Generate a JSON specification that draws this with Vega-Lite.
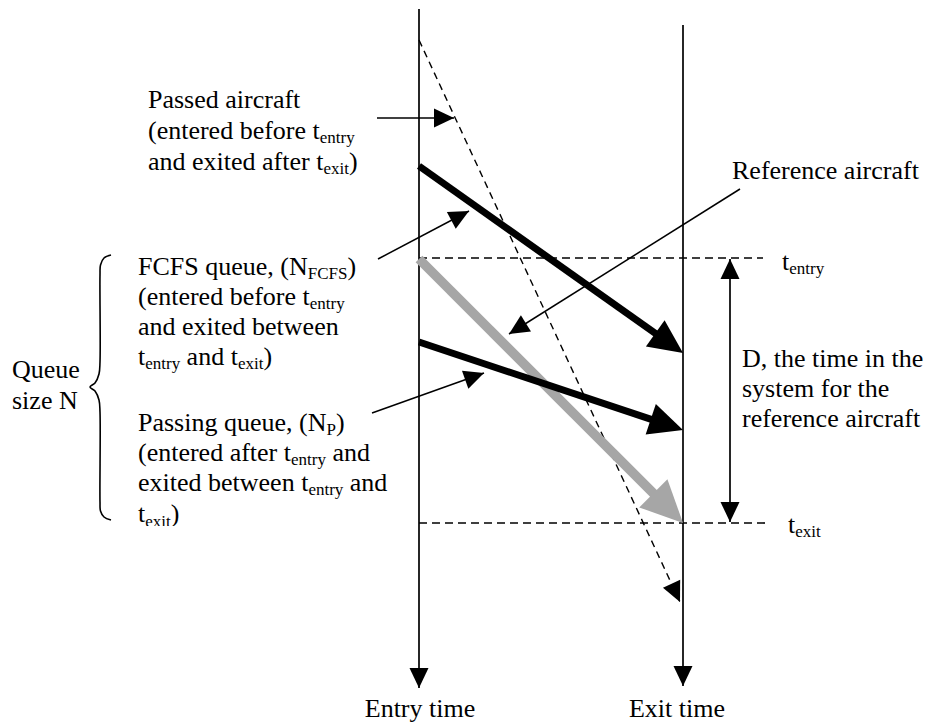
{
  "$schema": "https://vega.github.io/schema/vega-lite/v6.json",
  "width": 928,
  "height": 723,
  "autosize": "none",
  "padding": 0,
  "background": "white",
  "config": {"view": {"stroke": null}},
  "datasets": {
    "segments": [
      {"id": "entry_axis", "kind": "axis", "x": 419, "y": 9, "x2": 419, "y2": 688, "head": "end"},
      {"id": "exit_axis", "kind": "axis", "x": 683, "y": 25, "x2": 683, "y2": 686, "head": "end"},
      {"id": "passed_aircraft", "kind": "dash", "x": 419, "y": 40, "x2": 680, "y2": 602, "head": "end"},
      {"id": "t_entry_line", "kind": "dashflat", "x": 419, "y": 258, "x2": 763, "y2": 258, "head": "none"},
      {"id": "t_exit_line", "kind": "dashflat", "x": 419, "y": 523, "x2": 765, "y2": 523, "head": "none"},
      {"id": "D", "kind": "axis", "x": 730, "y": 259, "x2": 730, "y2": 522, "head": "both"},
      {"id": "fcfs_aircraft", "kind": "thick", "x": 419, "y": 166, "x2": 683, "y2": 353, "head": "end"},
      {"id": "passing_aircraft", "kind": "thick", "x": 419, "y": 342, "x2": 683, "y2": 430, "head": "end"},
      {"id": "reference_aircraft", "kind": "gray", "x": 419, "y": 259, "x2": 683, "y2": 523, "head": "end"},
      {"id": "ptr_passed", "kind": "thin", "x": 377, "y": 118, "x2": 454, "y2": 118, "head": "end"},
      {"id": "ptr_fcfs", "kind": "thin", "x": 378, "y": 259, "x2": 469, "y2": 211, "head": "end"},
      {"id": "ptr_passing", "kind": "thin", "x": 372, "y": 413, "x2": 484, "y2": 373, "head": "end"},
      {"id": "ptr_reference", "kind": "thin", "x": 740, "y": 189, "x2": 509, "y2": 334, "head": "end"}
    ],
    "brace": [
      {"i": 0, "x": 111, "y": 255},
      {"i": 1, "x": 104, "y": 258},
      {"i": 2, "x": 100.5, "y": 265},
      {"i": 3, "x": 100, "y": 275},
      {"i": 4, "x": 100, "y": 362},
      {"i": 5, "x": 99, "y": 374},
      {"i": 6, "x": 95, "y": 383},
      {"i": 7, "x": 90, "y": 387},
      {"i": 8, "x": 95, "y": 391},
      {"i": 9, "x": 99, "y": 400},
      {"i": 10, "x": 100, "y": 412},
      {"i": 11, "x": 100, "y": 502},
      {"i": 12, "x": 100.5, "y": 511},
      {"i": 13, "x": 104, "y": 517},
      {"i": 14, "x": 111, "y": 520}
    ],
    "texts": [
      {"role": "main", "x": 148, "y": 108, "t": "Passed aircraft"},
      {"role": "main", "x": 148, "y": 139, "t": "(entered before t"},
      {"role": "sub", "x": 319.8, "y": 143, "t": "entry"},
      {"role": "main", "x": 148, "y": 170, "t": "and exited after t"},
      {"role": "sub", "x": 323.4, "y": 174, "t": "exit"},
      {"role": "main", "x": 348.9, "y": 170, "t": ")"},

      {"role": "main", "x": 138, "y": 275, "t": "FCFS queue, (N"},
      {"role": "sub", "x": 307.7, "y": 279, "t": "FCFS"},
      {"role": "main", "x": 347.4, "y": 275, "t": ")"},
      {"role": "main", "x": 138, "y": 305, "t": "(entered before t"},
      {"role": "sub", "x": 309.8, "y": 309, "t": "entry"},
      {"role": "main", "x": 138, "y": 335, "t": "and exited between"},
      {"role": "main", "x": 138, "y": 365, "t": "t"},
      {"role": "sub", "x": 145.2, "y": 369, "t": "entry"},
      {"role": "main", "x": 186.6, "y": 365, "t": "and t"},
      {"role": "sub", "x": 237.9, "y": 369, "t": "exit"},
      {"role": "main", "x": 263.4, "y": 365, "t": ")"},

      {"role": "main", "x": 138, "y": 431, "t": "Passing queue, (N"},
      {"role": "sub", "x": 326.5, "y": 435, "t": "P"},
      {"role": "main", "x": 336, "y": 431, "t": ")"},
      {"role": "main", "x": 138, "y": 461, "t": "(entered after t"},
      {"role": "sub", "x": 291, "y": 465, "t": "entry"},
      {"role": "main", "x": 332.4, "y": 461, "t": "and"},
      {"role": "main", "x": 138, "y": 491, "t": "exited between t"},
      {"role": "sub", "x": 308.4, "y": 495, "t": "entry"},
      {"role": "main", "x": 349.8, "y": 491, "t": "and"},
      {"role": "main", "x": 138, "y": 522, "t": "t"},
      {"role": "sub", "x": 145.2, "y": 527, "t": "exit"},
      {"role": "main", "x": 170.7, "y": 522, "t": ")"},

      {"role": "main", "x": 12, "y": 378, "t": "Queue"},
      {"role": "main", "x": 12, "y": 409, "t": "size N"},

      {"role": "main", "x": 732, "y": 179, "t": "Reference aircraft"},
      {"role": "main", "x": 742, "y": 367, "t": "D, the time in the"},
      {"role": "main", "x": 742, "y": 397, "t": "system for the"},
      {"role": "main", "x": 742, "y": 427, "t": "reference aircraft"},

      {"role": "main", "x": 782, "y": 270, "t": "t"},
      {"role": "sub", "x": 789.2, "y": 274, "t": "entry"},
      {"role": "main", "x": 788, "y": 533, "t": "t"},
      {"role": "sub", "x": 795.2, "y": 537, "t": "exit"},

      {"role": "caption", "x": 420, "y": 717, "t": "Entry time"},
      {"role": "caption", "x": 677, "y": 717, "t": "Exit time"}
    ],
    "mask": [{"x": 125, "x2": 300, "y": 526, "y2": 545}]
  },
  "data": {"name": "segments"},
  "encoding": {
    "x": {"field": "x", "type": "quantitative", "scale": {"domain": [0, 928], "nice": false, "zero": false}, "axis": null},
    "y": {"field": "y", "type": "quantitative", "scale": {"domain": [0, 723], "nice": false, "zero": false, "reverse": true}, "axis": null}
  },
  "layer": [
    {
      "transform": [{"filter": "datum.kind === 'axis'"}],
      "mark": {"type": "rule", "color": "black", "strokeWidth": 1.7},
      "encoding": {"x2": {"field": "x2"}, "y2": {"field": "y2"}}
    },
    {
      "transform": [{"filter": "datum.kind === 'thin'"}],
      "mark": {"type": "rule", "color": "black", "strokeWidth": 1.5},
      "encoding": {"x2": {"field": "x2"}, "y2": {"field": "y2"}}
    },
    {
      "transform": [{"filter": "datum.kind === 'dash'"}],
      "mark": {"type": "rule", "color": "black", "strokeWidth": 1.4, "strokeDash": [7, 5]},
      "encoding": {"x2": {"field": "x2"}, "y2": {"field": "y2"}}
    },
    {
      "transform": [{"filter": "datum.kind === 'dashflat'"}],
      "mark": {"type": "rule", "color": "black", "strokeWidth": 1.6, "strokeDash": [8, 5]},
      "encoding": {"x2": {"field": "x2"}, "y2": {"field": "y2"}}
    },
    {
      "transform": [
        {"filter": "datum.kind === 'gray'"},
        {"calculate": "sqrt(pow(datum.x2 - datum.x, 2) + pow(datum.y2 - datum.y, 2))", "as": "len"},
        {"calculate": "datum.x2 - (datum.x2 - datum.x) / datum.len * 28", "as": "sx2"},
        {"calculate": "datum.y2 - (datum.y2 - datum.y) / datum.len * 28", "as": "sy2"}
      ],
      "mark": {"type": "rule", "color": "#a6a6a6", "strokeWidth": 9.5},
      "encoding": {"x2": {"field": "sx2"}, "y2": {"field": "sy2"}}
    },
    {
      "transform": [
        {"filter": "datum.kind === 'thick'"},
        {"calculate": "sqrt(pow(datum.x2 - datum.x, 2) + pow(datum.y2 - datum.y, 2))", "as": "len"},
        {"calculate": "datum.x2 - (datum.x2 - datum.x) / datum.len * 20", "as": "sx2"},
        {"calculate": "datum.y2 - (datum.y2 - datum.y) / datum.len * 20", "as": "sy2"}
      ],
      "mark": {"type": "rule", "color": "black", "strokeWidth": 7},
      "encoding": {"x2": {"field": "sx2"}, "y2": {"field": "sy2"}}
    },
    {
      "transform": [
        {"filter": "datum.head !== 'none' && (datum.kind === 'axis' || datum.kind === 'thin' || datum.kind === 'dash')"},
        {"calculate": "atan2(datum.y2 - datum.y, datum.x2 - datum.x) * 180 / PI", "as": "ang"}
      ],
      "mark": {"type": "point", "shape": "M0,0L-2,-0.95L-2,0.95Z", "size": 400, "filled": true, "opacity": 1, "color": "black", "strokeWidth": 0},
      "encoding": {
        "x": {"field": "x2", "type": "quantitative", "scale": {"domain": [0, 928], "nice": false, "zero": false}, "axis": null},
        "y": {"field": "y2", "type": "quantitative", "scale": {"domain": [0, 723], "nice": false, "zero": false, "reverse": true}, "axis": null},
        "angle": {"field": "ang", "type": "quantitative", "scale": null}
      }
    },
    {
      "transform": [
        {"filter": "datum.head === 'both'"},
        {"calculate": "atan2(datum.y - datum.y2, datum.x - datum.x2) * 180 / PI", "as": "ang"}
      ],
      "mark": {"type": "point", "shape": "M0,0L-2,-0.95L-2,0.95Z", "size": 400, "filled": true, "opacity": 1, "color": "black", "strokeWidth": 0},
      "encoding": {
        "angle": {"field": "ang", "type": "quantitative", "scale": null}
      }
    },
    {
      "transform": [
        {"filter": "datum.kind === 'thick'"},
        {"calculate": "atan2(datum.y2 - datum.y, datum.x2 - datum.x) * 180 / PI", "as": "ang"}
      ],
      "mark": {"type": "point", "shape": "M0,0L-2,-0.95L-2,0.95Z", "size": 1156, "filled": true, "opacity": 1, "color": "black", "strokeWidth": 0},
      "encoding": {
        "x": {"field": "x2", "type": "quantitative", "scale": {"domain": [0, 928], "nice": false, "zero": false}, "axis": null},
        "y": {"field": "y2", "type": "quantitative", "scale": {"domain": [0, 723], "nice": false, "zero": false, "reverse": true}, "axis": null},
        "angle": {"field": "ang", "type": "quantitative", "scale": null}
      }
    },
    {
      "transform": [
        {"filter": "datum.kind === 'gray'"},
        {"calculate": "atan2(datum.y2 - datum.y, datum.x2 - datum.x) * 180 / PI", "as": "ang"}
      ],
      "mark": {"type": "point", "shape": "M0,0L-2,-0.95L-2,0.95Z", "size": 1764, "filled": true, "opacity": 1, "color": "#a6a6a6", "strokeWidth": 0},
      "encoding": {
        "x": {"field": "x2", "type": "quantitative", "scale": {"domain": [0, 928], "nice": false, "zero": false}, "axis": null},
        "y": {"field": "y2", "type": "quantitative", "scale": {"domain": [0, 723], "nice": false, "zero": false, "reverse": true}, "axis": null},
        "angle": {"field": "ang", "type": "quantitative", "scale": null}
      }
    },
    {
      "data": {"name": "brace"},
      "mark": {"type": "line", "color": "black", "strokeWidth": 1.6, "interpolate": "catmull-rom"},
      "encoding": {"order": {"field": "i", "type": "quantitative"}}
    },
    {
      "data": {"name": "texts"},
      "transform": [{"filter": "datum.role === 'main'"}],
      "mark": {"type": "text", "font": "Liberation Serif", "fontSize": 26, "align": "left", "baseline": "alphabetic", "color": "black"},
      "encoding": {"text": {"field": "t"}}
    },
    {
      "data": {"name": "texts"},
      "transform": [{"filter": "datum.role === 'sub'"}],
      "mark": {"type": "text", "font": "Liberation Serif", "fontSize": 17, "align": "left", "baseline": "alphabetic", "color": "black"},
      "encoding": {"text": {"field": "t"}}
    },
    {
      "data": {"name": "texts"},
      "transform": [{"filter": "datum.role === 'caption'"}],
      "mark": {"type": "text", "font": "Liberation Serif", "fontSize": 26, "align": "center", "baseline": "alphabetic", "color": "black"},
      "encoding": {"text": {"field": "t"}}
    },
    {
      "data": {"name": "mask"},
      "mark": {"type": "rect", "color": "white", "opacity": 1},
      "encoding": {"x2": {"field": "x2"}, "y2": {"field": "y2"}}
    }
  ]
}
